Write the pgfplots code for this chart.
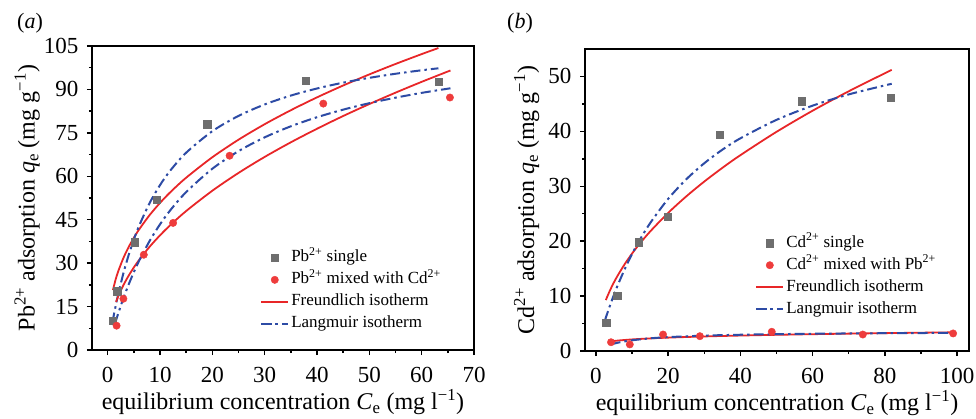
\documentclass[border=0pt]{standalone}
\usepackage{fontspec}
\setmainfont{Liberation Serif}
\usepackage{pgfplots}
\pgfplotsset{compat=1.18}
\definecolor{myred}{RGB}{232,38,40}
\definecolor{mydot}{RGB}{238,60,60}
\definecolor{mygray}{RGB}{110,110,110}
\definecolor{myblue}{RGB}{45,75,165}
\pgfplotsset{
  myax/.style={
    scale only axis,
    anchor=south west,
    tick pos=left,
    tick align=outside,
    major tick length=5pt,
    minor tick length=3pt,
    axis line style={line width=2.2pt},
    every tick/.style={black, line width=1.4pt},
    /pgf/number format/assume math mode=true,
    tick label style={font=\fontsize{23}{27}\selectfont},
    xticklabel style={yshift=-9pt},
    yticklabel style={xshift=-5pt},
    label style={font=\fontsize{24}{28}\selectfont},
    minor x tick num=1, minor y tick num=1,
    legend style={draw=none, fill=none, anchor=north west, inner sep=0pt,
      font=\fontsize{17}{20}\selectfont, row sep=0pt,
      nodes={inner sep=2pt, text height=13pt, text depth=5pt}},
    legend cell align=left,
    legend image code/.code={\draw[mark repeat=2,mark phase=2,##1] plot coordinates {(0pt,0pt) (13.5pt,0pt) (27pt,0pt)};},
  },
  sq/.style={only marks, mark=square*, mark size=3.6pt, color=mygray},
  ci/.style={only marks, mark=*, mark size=3.7pt, color=mydot},
  fr/.style={myred, line width=1.8pt, smooth, no marks},
  la/.style={myblue, line width=2pt, smooth, no marks, dash pattern=on 10pt off 4pt on 2.5pt off 4pt},
}
\begin{document}
\begin{tikzpicture}
\useasboundingbox (0pt,0pt) rectangle (976pt,418pt);
\node[font=\fontsize{22}{26}\selectfont] at (30pt,395pt) {(\textit{a})};
\node[font=\fontsize{22}{26}\selectfont] at (520pt,395pt) {(\textit{b})};
\begin{axis}[myax, at={(92pt,68pt)}, width=382pt, height=304pt,
  xmin=-3, xmax=70, ymin=0, ymax=105,
  xtick={0,10,...,70}, ytick={0,15,...,105},
  xlabel={equilibrium concentration \textit{C}\textsubscript{e} (mg l\textsuperscript{−1})},
  ylabel={Pb\textsuperscript{2+} adsorption \textit{q}\textsubscript{e} (mg g\textsuperscript{−1})},
  xlabel style={at={(axis description cs:0.5,-0.197)}, anchor=base},
  ylabel style={at={(axis description cs:-0.170,0.5)}, anchor=center},
  legend style={at={(0.44,0.34)}},
]
\addplot[sq] coordinates {(0.9,10.0)(1.8,20.3)(5.2,37.2)(9.4,52.0)(19.0,78.0)(37.8,93.1)(63.2,92.8)};
\addlegendentry{Pb\textsuperscript{2+} single}
\addplot[ci] coordinates {(1.7,8.4)(3.0,17.7)(6.9,32.9)(12.5,43.9)(23.3,67.1)(41.2,85.1)(65.4,87.2)};
\addlegendentry{Pb\textsuperscript{2+} mixed with Cd\textsuperscript{2+}}
\addplot[fr] coordinates {(1,20.7)(1.5,24.25)(2,27.13)(3,31.77)(4,35.54)(5,38.78)(6,41.63)(8,46.58)(10,50.81)(12,54.56)(15,59.52)(20,66.58)(25,72.64)(30,77.99)(35,82.82)(40,87.26)(45,91.36)(50,95.19)(55,98.79)(60,102.2)(63.2,104.3)};
\addlegendentry{Freundlich isotherm}
\addplot[la] coordinates {(0.9,9.53)(1.2,12.35)(1.5,15.03)(2,19.18)(3,26.51)(4,32.76)(5,38.17)(6,42.89)(8,50.72)(10,56.97)(12,62.06)(15,68.16)(20,75.58)(25,80.86)(30,84.81)(35,87.88)(40,90.33)(45,92.34)(50,94.00)(55,95.41)(60,96.62)(63.2,97.30)};
\addlegendentry{Langmuir isotherm}
\addplot[fr, forget plot] coordinates {(1.6,16.62)(2,18.47)(3,22.39)(4,25.66)(5,28.52)(6,31.10)(8,35.64)(10,39.61)(12,43.19)(15,48.01)(20,55.02)(25,61.16)(30,66.69)(35,71.74)(40,76.42)(45,80.82)(50,84.95)(55,88.88)(60,92.62)(65.5,96.55)};
\addplot[la, forget plot] coordinates {(1.4,9.10)(1.6,10.28)(2,12.57)(3,17.85)(4,22.60)(5,26.90)(6,30.81)(8,37.63)(10,43.41)(12,48.35)(15,54.56)(20,62.61)(25,68.69)(30,73.45)(35,77.27)(40,80.40)(45,83.02)(50,85.25)(55,87.15)(60,88.81)(65.5,90.40)};
\end{axis}
\begin{axis}[myax, at={(585pt,67pt)}, width=384pt, height=302pt,
  xmin=-3, xmax=103.3, ymin=0, ymax=55,
  xtick={0,20,...,100}, ytick={0,10,...,50},
  xlabel={equilibrium concentration \textit{C}\textsubscript{e} (mg l\textsuperscript{−1})},
  ylabel={Cd\textsuperscript{2+} adsorption \textit{q}\textsubscript{e} (mg g\textsuperscript{−1})},
  xlabel style={at={(axis description cs:0.5,-0.198)}, anchor=base},
  ylabel style={at={(axis description cs:-0.152,0.5)}, anchor=center},
  legend style={at={(0.443,0.394)}},
]
\addplot[sq] coordinates {(2.85,5.2)(5.9,10.0)(11.9,19.8)(20.0,24.5)(34.2,39.4)(56.9,45.5)(81.7,46.1)};
\addlegendentry{Cd\textsuperscript{2+} single}
\addplot[ci] coordinates {(4.2,1.6)(9.4,1.2)(18.6,3.0)(28.8,2.7)(48.7,3.5)(73.9,3.0)(98.9,3.2)};
\addlegendentry{Cd\textsuperscript{2+} mixed with Pb\textsuperscript{2+}}
\addplot[fr] coordinates {(2.77,9.27)(3,9.65)(4,11.16)(5,12.49)(6,13.69)(8,15.83)(10,17.72)(12,19.43)(15,21.74)(20,25.14)(25,28.14)(30,30.85)(35,33.34)(40,35.66)(50,39.91)(60,43.76)(70,47.30)(81.9,51.20)};
\addlegendentry{Freundlich isotherm}
\addplot[la] coordinates {(2.5,5.54)(3,6.54)(4,8.44)(5,10.21)(6,11.88)(8,14.92)(10,17.63)(12,20.06)(15,23.26)(20,27.69)(25,31.25)(30,34.19)(35,36.65)(40,38.73)(50,42.09)(60,44.68)(70,46.73)(81.9,48.67)};
\addlegendentry{Langmuir isotherm}
\addplot[fr, forget plot] coordinates {(4.1,1.75)(6,1.895)(10,2.108)(15,2.294)(20,2.436)(30,2.651)(40,2.815)(50,2.949)(60,3.063)(70,3.163)(80,3.253)(90,3.334)(99,3.401)};
\addplot[la, forget plot] coordinates {(4.1,1.18)(5,1.343)(6,1.499)(8,1.754)(10,1.953)(15,2.301)(20,2.527)(30,2.801)(40,2.962)(50,3.067)(60,3.142)(70,3.198)(80,3.241)(90,3.275)(99,3.30)};
\end{axis}
\end{tikzpicture}
\end{document}
